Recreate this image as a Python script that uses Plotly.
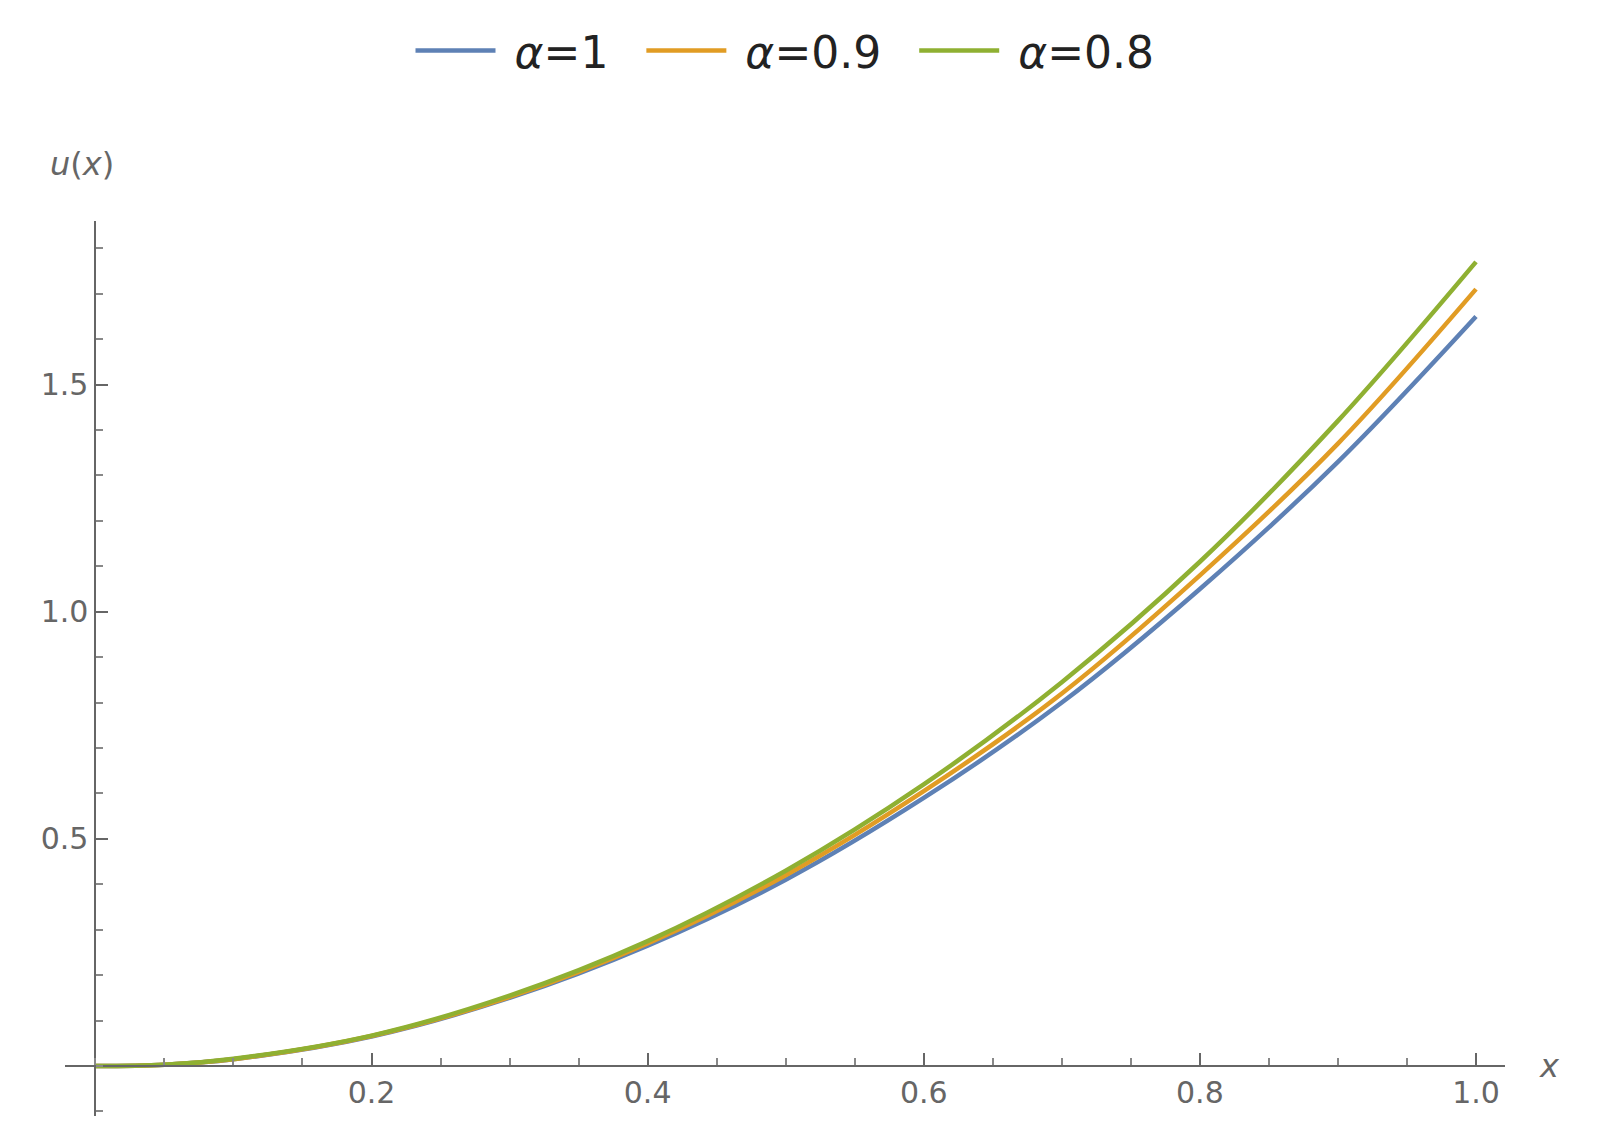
import plotly.graph_objects as go

x_vals = [0, 0.05, 0.1, 0.2, 0.3, 0.4, 0.5, 0.6, 0.7, 0.8, 0.9, 1.0]
u_a1 = [0, 0.003, 0.015, 0.065, 0.15, 0.265, 0.41, 0.59, 0.80, 1.05, 1.33, 1.65]
u_a09 = [0, 0.003, 0.015, 0.066, 0.152, 0.27, 0.42, 0.605, 0.82, 1.08, 1.37, 1.71]
u_a08 = [0, 0.003, 0.016, 0.067, 0.155, 0.275, 0.43, 0.62, 0.845, 1.11, 1.42, 1.77]
names = [" <i>α</i>=1  ", " <i>α</i>=0.9  ", " <i>α</i>=0.8"]
colors = ["#5E81B5", "#E19C24", "#8FB032"]

fig = go.Figure()
for ys, n, c in zip([u_a1, u_a09, u_a08], names, colors):
    fig.add_trace(go.Scatter(x=x_vals, y=ys, mode="lines", name=n,
                             line=dict(color=c, width=4.5, shape="spline")))

xr = [-0.022, 1.021]
yr = [-0.11, 1.86]
fig.update_layout(
    width=1597, height=1146, plot_bgcolor="white", paper_bgcolor="white",
    margin=dict(l=57, r=100, t=213, b=38, autoexpand=False),
    font=dict(family="DejaVu Sans", color="#555555"),
    legend=dict(orientation="h", x=0.5, xanchor="center", y=1.19, yanchor="middle",
                font=dict(size=44, color="#222222"), itemwidth=80),
    xaxis=dict(range=xr, anchor="free", position=(0 - yr[0]) / (yr[1] - yr[0]),
               showgrid=False, zeroline=False, showline=True, linecolor="#666666", linewidth=2,
               tickvals=[0.2, 0.4, 0.6, 0.8, 1.0], ticktext=["0.2", "0.4", "0.6", "0.8", "1.0"],
               ticks="inside", ticklen=12, tickcolor="#666666", tickwidth=1.5,
               tickfont=dict(size=30, color="#666666"),
               minor=dict(dtick=0.05, tick0=0, ticks="inside", ticklen=7, tickcolor="#888888")),
    yaxis=dict(range=yr, anchor="free", position=(0 - xr[0]) / (xr[1] - xr[0]),
               showgrid=False, zeroline=False, showline=True, linecolor="#666666", linewidth=2,
               tickvals=[0.5, 1.0, 1.5], ticktext=["0.5", "1.0", "1.5"],
               ticks="inside", ticklen=12, tickcolor="#666666", tickwidth=1.5,
               tickfont=dict(size=30, color="#666666"),
               minor=dict(dtick=0.1, tick0=0, ticks="inside", ticklen=7, tickcolor="#888888")),
    annotations=[
        dict(text="<i>u</i>(<i>x</i>)", xref="paper", yref="paper", x=-0.012, y=1.04,
             xanchor="left", yanchor="bottom", showarrow=False, font=dict(size=32, color="#666666")),
        dict(text="<i>x</i>", xref="paper", yref="paper", x=1.022, y=(0 - yr[0]) / (yr[1] - yr[0]),
             xanchor="left", yanchor="middle", showarrow=False, font=dict(size=32, color="#666666")),
    ],
)
fig.write_html("out.html")
